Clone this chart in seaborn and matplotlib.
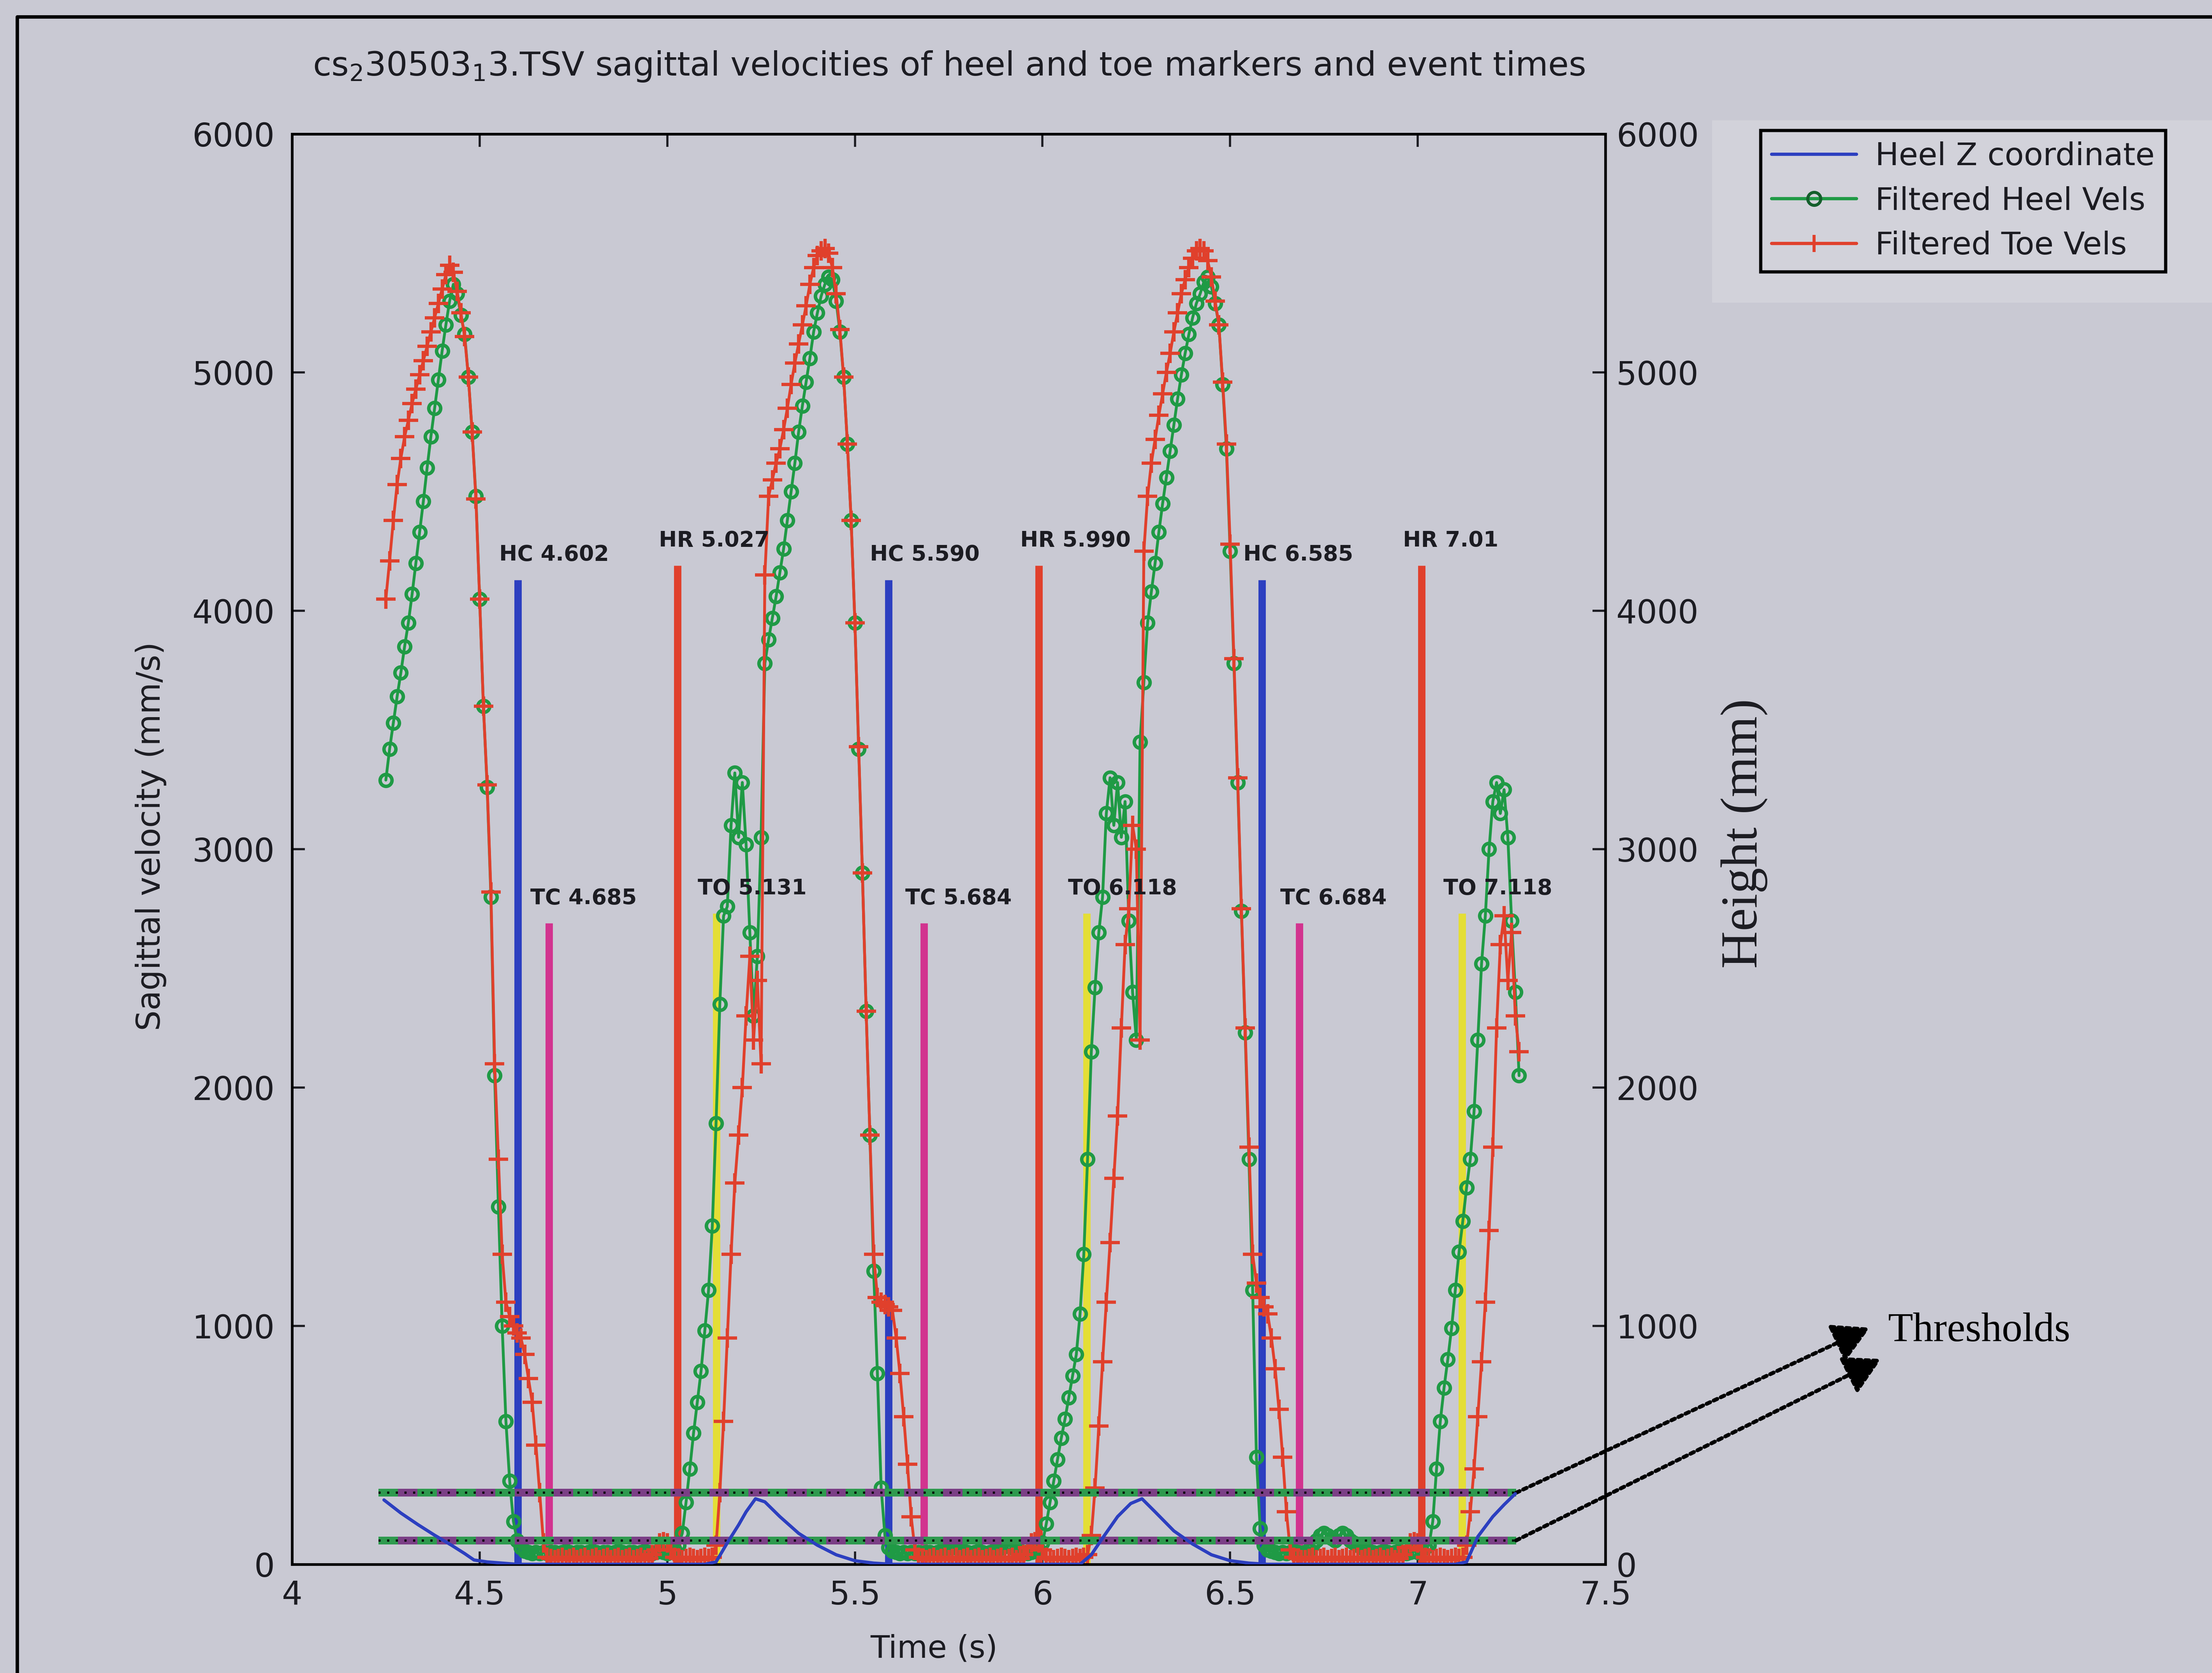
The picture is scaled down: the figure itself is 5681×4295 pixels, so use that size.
import numpy as np
import pandas as pd
import matplotlib
matplotlib.use("Agg")
import matplotlib.pyplot as plt
import seaborn as sns
from matplotlib.lines import Line2D
from matplotlib.patches import Rectangle
from matplotlib.ticker import MultipleLocator, FuncFormatter

# ---------------------------------------------------------------- data
title_text = r"cs$_2$30503$_1$3.TSV sagittal velocities of heel and toe markers and event times"
x_label = "Time (s)"
y_label_left = "Sagittal velocity (mm/s)"
y_label_right = "Height (mm)"
series_names = ["Heel Z coordinate", "Filtered Heel Vels", "Filtered Toe Vels"]
x_ticks = [4, 4.5, 5, 5.5, 6, 6.5, 7, 7.5]
y_ticks = [0, 1000, 2000, 3000, 4000, 5000, 6000]

# samples every 0.01 s from 4.25 s to 7.27 s
sample_index = list(range(425, 728))

heel_vel_a = [3290, 3420, 3530, 3640, 3740, 3850, 3950, 4070, 4200, 4330,
              4460, 4600, 4730, 4850, 4970, 5090, 5200, 5300, 5370, 5330,
              5240, 5160, 4980, 4750, 4480, 4050, 3600, 3260, 2800, 2050,
              1500, 1000, 600, 350, 180, 100, 70, 55, 50, 45,
              50, 45, 50, 45, 50]
heel_vel_b = [50, 45, 50, 55, 50, 45, 50, 50, 45, 50,
              55, 50, 45, 50, 50, 45, 50, 55, 50, 45,
              50, 50, 45, 50, 55, 50, 45, 50, 55, 50,
              45, 50, 60]
heel_vel_c = [80, 130, 260, 400, 550, 680, 810, 980, 1150, 1420,
              1850, 2350, 2720, 2760, 3100, 3320, 3050, 3280, 3020, 2650,
              2300, 2550, 3050, 3780, 3880, 3970, 4060, 4160, 4260, 4380,
              4500, 4620, 4750, 4860, 4960, 5060, 5170, 5250, 5320, 5370,
              5400, 5390, 5300, 5170, 4980, 4700, 4380, 3950, 3420, 2900,
              2320, 1800, 1230, 800, 320, 120, 70, 55, 50, 45,
              50, 45, 50, 45, 50, 45, 50]
heel_vel_d = [50, 45, 50, 55, 60, 70, 75, 70, 60, 55,
              50, 45, 50, 55, 50, 45, 50, 55, 60, 70,
              75, 80, 70, 60, 55, 50, 45, 50, 55, 60,
              90]
heel_vel_e = [170, 260, 350, 440, 530, 610, 700, 790, 880, 1050,
              1300, 1700, 2150, 2420, 2650, 2800, 3150, 3300, 3100, 3280,
              3050, 3200, 2700, 2400, 2200, 3450, 3700, 3950, 4080, 4200,
              4330, 4450, 4560, 4670, 4780, 4890, 4990, 5080, 5160, 5230,
              5290, 5330, 5380, 5400, 5360, 5290, 5200, 4950, 4680, 4250,
              3780, 3280, 2740, 2230, 1700, 1150, 450, 150, 80, 60,
              55, 50, 45, 50, 45, 50, 55, 50, 45]
heel_vel_f = [50, 60, 80, 100, 120, 130, 120, 110, 100, 120,
              130, 120, 100, 90, 80, 70, 60, 55, 50, 45,
              50, 55, 50, 45, 50, 55, 50, 45, 50, 55,
              50, 60, 70]
heel_vel_g = [80, 180, 400, 600, 740, 860, 990, 1150, 1310, 1440,
              1580, 1700, 1900, 2200, 2520, 2720, 3000, 3200, 3280, 3150,
              3250, 3050, 2700, 2400, 2050]

toe_vel_a = [4050, 4210, 4380, 4530, 4640, 4730, 4800, 4870, 4930, 4990,
             5050, 5110, 5170, 5230, 5290, 5350, 5410, 5450, 5420, 5340,
             5250, 5150, 4980, 4750, 4470, 4050, 3600, 3270, 2820, 2100,
             1700, 1300, 1100, 1040, 1000, 970, 950, 880, 780, 680,
             500, 300, 90, 30, 25]
toe_vel_b = [20, 25, 30, 20, 25, 30, 20, 25, 30, 20,
             25, 30, 20, 25, 30, 20, 25, 30, 20, 25,
             30, 20, 25, 30, 20, 25, 40, 60, 90, 95,
             90, 60, 30]
toe_vel_c = [25, 20, 25, 30, 25, 20, 25, 30, 25, 30,
             80, 300, 600, 950, 1300, 1600, 1800, 2000, 2300, 2550,
             2200, 2450, 2100, 4150, 4480, 4550, 4620, 4680, 4760, 4850,
             4950, 5040, 5120, 5200, 5280, 5370, 5440, 5490, 5510, 5520,
             5500, 5440, 5330, 5180, 4980, 4700, 4380, 3950, 3430, 2900,
             2320, 1800, 1300, 1120, 1100, 1090, 1080, 1066, 950, 800,
             620, 420, 200, 60, 30, 25, 20]
toe_vel_d = [25, 30, 20, 25, 30, 20, 25, 30, 20, 25,
             30, 20, 25, 30, 20, 25, 30, 20, 25, 30,
             20, 25, 30, 20, 25, 40, 70, 90, 95, 90,
             60]
toe_vel_e = [30, 25, 20, 25, 30, 25, 20, 25, 30, 25,
             30, 40, 120, 320, 580, 850, 1100, 1350, 1620, 1880,
             2250, 2600, 2750, 3100, 3000, 2200, 4250, 4480, 4620, 4720,
             4820, 4910, 5000, 5080, 5170, 5250, 5330, 5390, 5440, 5480,
             5510, 5520, 5510, 5470, 5400, 5300, 5200, 4960, 4700, 4280,
             3800, 3300, 2750, 2250, 1750, 1300, 1180, 1120, 1080, 1050,
             950, 820, 650, 450, 220, 60, 30, 25, 20]
toe_vel_f = [20, 25, 30, 20, 25, 30, 20, 25, 30, 20,
             25, 30, 20, 25, 30, 20, 25, 30, 20, 25,
             30, 20, 25, 30, 20, 25, 40, 70, 90, 95,
             90, 60, 30]
toe_vel_g = [25, 20, 25, 30, 25, 20, 25, 30, 25, 30,
             80, 220, 400, 620, 850, 1100, 1400, 1750, 2250, 2600,
             2720, 2450, 2650, 2300, 2150]

heel_z_time = [4.245, 4.29, 4.336, 4.38, 4.425, 4.46, 4.485, 4.52, 4.56, 4.60,
               4.70, 4.80, 4.90, 5.00, 5.10, 5.13, 5.16, 5.19, 5.21, 5.235,
               5.26, 5.30, 5.35, 5.40, 5.45, 5.50, 5.55, 5.60, 5.70, 5.80,
               5.90, 6.00, 6.10, 6.13, 6.16, 6.20, 6.235, 6.265, 6.30, 6.35,
               6.40, 6.45, 6.50, 6.55, 6.60, 6.70, 6.80, 6.90, 7.00, 7.10,
               7.13, 7.16, 7.20, 7.23, 7.26]
heel_z_height = [270, 215, 166, 122, 80, 45, 18, 10, 5, 0,
                 0, 0, 0, 0, 0, 10, 90, 165, 220, 275,
                 262, 200, 130, 80, 40, 15, 5, 0, 0, 0,
                 0, 0, 0, 40, 110, 200, 255, 275, 220, 140,
                 85, 40, 15, 5, 0, 0, 0, 0, 0, 0,
                 10, 116, 200, 250, 296]

event_labels = ["HC 4.602", "TC 4.685", "HR 5.027", "TO 5.131",
                "HC 5.590", "TC 5.684", "HR 5.990", "TO 6.118",
                "HC 6.585", "TC 6.684", "HR 7.01", "TO 7.118"]
event_times = [4.602, 4.685, 5.027, 5.131,
               5.590, 5.684, 5.990, 6.118,
               6.585, 6.684, 7.010, 7.118]
event_kinds = ["HC", "TC", "HR", "TO"] * 3
event_kind_heights = {"HC": 4130, "TC": 2690, "HR": 4190, "TO": 2730}

threshold_values = [300, 100]
threshold_span = [4.23, 7.262]
threshold_note = "Thresholds"

# ---------------------------------------------------------------- style
BG = "#c9c9d3"
PATCH = "#d2d2da"
BLUE = "#2c3fc0"
GREEN = "#1f9a45"
RED = "#e0402c"
MAGENTA = "#d2338f"
YELLOW = "#e4de36"
TXT = "#1c1c22"
kind_colors = {"HC": BLUE, "TC": MAGENTA, "HR": RED, "TO": YELLOW}

sns.set_style("ticks")
plt.rcParams["font.family"] = ["DejaVu Sans"]
plt.rcParams["mathtext.fontset"] = "dejavusans"
plt.rcParams["text.color"] = TXT
plt.rcParams["axes.labelcolor"] = TXT
plt.rcParams["xtick.color"] = TXT
plt.rcParams["ytick.color"] = TXT

time_grid = np.array(sample_index) / 100.0
heel_vel = np.array(heel_vel_a + heel_vel_b + heel_vel_c + heel_vel_d
                    + heel_vel_e + heel_vel_f + heel_vel_g, dtype=float)
toe_vel = np.array(toe_vel_a + toe_vel_b + toe_vel_c + toe_vel_d
                   + toe_vel_e + toe_vel_f + toe_vel_g, dtype=float)
assert len(heel_vel) == len(time_grid) == len(toe_vel)

vel_df = pd.DataFrame({"time": time_grid, "heel": heel_vel, "toe": toe_vel})
hz_df = pd.DataFrame({"time": heel_z_time, "height": heel_z_height})

fig = plt.figure(figsize=(5681 / 400, 4295 / 400), dpi=400, facecolor=BG)
ax = fig.add_axes([0.13202, 0.06498, 0.59375, 0.85485])
ax.set_facecolor(BG)

# lighter area behind the legend (photo lighting)
fig.patches.append(Rectangle((0.774, 0.819), 0.226, 0.109, transform=fig.transFigure,
                             facecolor=PATCH, edgecolor="none", zorder=0))
# photo frame edge
fig.add_artist(Line2D([0.0077, 0.0077, 1.0], [0.0, 0.9899, 0.9899],
                      transform=fig.transFigure, color="black", lw=1.6))

# event lines and labels
ev_heights = [event_kind_heights[k] for k in event_kinds]
ev_colors = [kind_colors[k] for k in event_kinds]
ax.vlines(event_times, 0, ev_heights, colors=ev_colors, lw=3.4, zorder=2)
for name, t, h in zip(event_labels, event_times, ev_heights):
    ax.text(t - 0.05, h + 105, name, fontsize=10, fontweight="bold",
            ha="left", va="center", color=TXT, zorder=6)

# velocity curves
sns.lineplot(data=vel_df, x="time", y="heel", ax=ax, color=GREEN, lw=1.3,
             marker="o", markersize=5.5, markerfacecolor="none",
             markeredgecolor=GREEN, markeredgewidth=1.6,
             estimator=None, errorbar=None, sort=False, legend=False, zorder=3)
sns.lineplot(data=vel_df, x="time", y="toe", ax=ax, color=RED, lw=1.3,
             marker="+", markersize=9, markeredgecolor=RED, markeredgewidth=1.5,
             estimator=None, errorbar=None, sort=False, legend=False, zorder=3.2)

# thresholds
for v in threshold_values:
    ax.plot(threshold_span, [v, v], color="#7b3f86", lw=3.6, zorder=4,
            solid_capstyle="butt")
    ax.plot(threshold_span, [v, v], color="#2e9a4e", lw=3.6, dashes=(2.5, 2.5),
            zorder=4.1)
    ax.plot(threshold_span, [v, v], color="black", lw=1.0, dashes=(1, 3),
            zorder=4.2)

ax.set_xlim(4, 7.5)
ax.set_ylim(0, 6000)
ax.set_xticks(x_ticks)
ax.xaxis.set_major_formatter(FuncFormatter(lambda v, p: f"{v:g}"))
ax.set_yticks(y_ticks)

# right axis with heel height
ax2 = ax.twinx()
sns.lineplot(data=hz_df, x="time", y="height", ax=ax2, color=BLUE, lw=1.5,
             estimator=None, errorbar=None, sort=False, legend=False, zorder=5)
ax2.set_ylim(0, 6000)
ax2.set_yticks(y_ticks)
ax2.set_xlim(4, 7.5)

for a in (ax, ax2):
    for s in a.spines.values():
        s.set_color("black")
        s.set_linewidth(1.2)
        s.set_visible(True)

ax.tick_params(axis="x", direction="in", length=6, width=1, labelsize=15, pad=7,
               top=True, bottom=True)
ax.tick_params(axis="y", direction="in", length=6, width=1, labelsize=15, pad=8,
               left=True, right=False)
ax2.tick_params(axis="y", direction="in", length=6, width=1, labelsize=15, pad=5)

ax.set_title(title_text, fontsize=15.5, y=1.0474, pad=0, va="center", color=TXT)
ax.set_xlabel(x_label, fontsize=14.5, va="center")
ax.xaxis.set_label_coords(0.4887, -0.0592)
ax.set_ylabel(y_label_left, fontsize=15, va="center")
ax.yaxis.set_label_coords(-0.1074, 0.509)
ax2.set_ylabel(y_label_right, fontsize=24, family=["Liberation Serif", "DejaVu Serif"],
               va="center", rotation=90)
ax2.yaxis.set_label_coords(1.106, 0.511)

# legend
handles = [Line2D([], [], color=BLUE, lw=1.5),
           Line2D([], [], color=GREEN, lw=1.5, marker="o", markersize=6,
                  markerfacecolor="none", markeredgecolor="#145f2c", markeredgewidth=1.4),
           Line2D([], [], color=RED, lw=1.5, marker="+", markersize=8,
                  markeredgecolor=RED, markeredgewidth=1.4)]
leg = fig.legend(handles, series_names, loc="upper left", bbox_to_anchor=(0.796, 0.922),
                 bbox_transform=fig.transFigure, frameon=True, fancybox=False,
                 edgecolor="black", facecolor=PATCH, framealpha=1, fontsize=14.5,
                 handlelength=2.7, handletextpad=0.6, borderpad=0.35,
                 labelspacing=0.45, borderaxespad=0, numpoints=1)
leg.get_frame().set_linewidth(1.5)

# threshold arrows to the note
arrow_tips = [(0.8453, 0.2064), (0.8504, 0.1877)]
for v, tip in zip(threshold_values, arrow_tips):
    ax.annotate("", xy=tip, xycoords="figure fraction",
                xytext=(threshold_span[1], v), textcoords="data",
                arrowprops=dict(arrowstyle="-|>,head_length=0.45,head_width=0.25",
                                color="black", lw=1.8, linestyle=(0, (1.0, 1.0)),
                                shrinkA=0, shrinkB=0, mutation_scale=32),
                annotation_clip=False, zorder=7)
fig.text(0.8533, 0.2042, threshold_note, fontsize=19,
         family=["Liberation Serif", "DejaVu Serif"], ha="left", va="center", color="black")

fig.savefig("out.png", dpi=400, facecolor=BG)
